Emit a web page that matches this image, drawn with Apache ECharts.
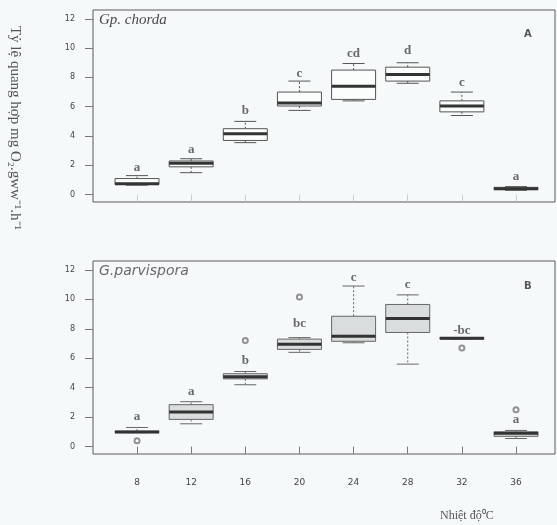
<!DOCTYPE html>
<html>
<head>
<meta charset="utf-8">
<script src="https://cdn.jsdelivr.net/npm/echarts@6/dist/echarts.min.js"></script>
<style>
  html, body { margin: 0; padding: 0; background: #f5f9fa; }
  #chart { width: 557px; height: 525px; }
</style>
</head>
<body>
<div id="chart"></div>
<script>
// temperatures (°C) on the x axis
const temps = [8, 12, 16, 20, 24, 28, 32, 36];
const yTicks = [0, 2, 4, 6, 8, 10, 12];

// Gp. chorda (panel A)
const chordaMin = [0.65, 1.5, 3.55, 5.75, 6.4, 7.6, 5.4, 0.3];
const chordaQ1  = [0.7, 1.9, 3.7, 6.05, 6.5, 7.75, 5.65, 0.35];
const chordaMed = [0.75, 2.15, 4.15, 6.25, 7.4, 8.2, 6.05, 0.4];
const chordaQ3  = [1.1, 2.3, 4.5, 7.0, 8.5, 8.7, 6.4, 0.5];
const chordaMax = [1.3, 2.45, 5.0, 7.75, 8.95, 9.0, 7.0, 0.55];
const chordaLetters = ['a', 'a', 'b', 'c', 'cd', 'd', 'c', 'a'];
const chordaLetterY = [1.85, 3.1, 5.75, 8.25, 9.6, 9.85, 7.65, 1.25];

// G. parvispora (panel B)
const parvMin = [0.95, 1.55, 4.2, 6.4, 7.05, 5.6, 7.3, 0.55];
const parvQ1  = [0.95, 1.85, 4.6, 6.6, 7.15, 7.75, 7.3, 0.7];
const parvMed = [1.0, 2.35, 4.75, 6.95, 7.5, 8.7, 7.35, 0.9];
const parvQ3  = [1.05, 2.85, 4.95, 7.3, 8.85, 9.65, 7.4, 1.0];
const parvMax = [1.3, 3.05, 5.1, 7.4, 10.9, 10.3, 7.4, 1.1];
const parvOutT = [8, 16, 20, 32, 36];
const parvOutY = [0.4, 7.2, 10.15, 6.7, 2.5];
const parvLetters = ['a', 'a', 'b', 'bc', 'c', 'c', '-bc', 'a'];
const parvLetterY = [2.05, 3.75, 5.85, 8.35, 11.5, 11.0, 7.9, 1.8];

const BOX_W = 44;
const pos = t => temps.indexOf(t) + 1;

function boxRows(mn, q1, md, q3, mx) {
  return temps.map((t, i) => [i + 1, mn[i], q1[i], md[i], q3[i], mx[i]]);
}

function boxRenderer(fill, stroke) {
  return function (params, api) {
    const x = api.value(0);
    const p = [1, 2, 3, 4, 5].map(i => api.coord([x, api.value(i)]));
    const cx = p[0][0], hw = BOX_W / 2, cw = BOX_W / 4;
    const [yMin, yQ1, yMed, yQ3, yMax] = p.map(q => q[1]);
    const thin = { stroke: stroke, lineWidth: 1 };
    const dash = { stroke: stroke, lineWidth: 1, lineDash: [2, 2] };
    return {
      type: 'group',
      children: [
        { type: 'line', shape: { x1: cx, y1: yQ3, x2: cx, y2: yMax }, style: dash },
        { type: 'line', shape: { x1: cx, y1: yQ1, x2: cx, y2: yMin }, style: dash },
        { type: 'line', shape: { x1: cx - cw, y1: yMax, x2: cx + cw, y2: yMax }, style: thin },
        { type: 'line', shape: { x1: cx - cw, y1: yMin, x2: cx + cw, y2: yMin }, style: thin },
        { type: 'rect', shape: { x: cx - hw, y: yQ3, width: BOX_W, height: yQ1 - yQ3 },
          style: { fill: fill, stroke: stroke, lineWidth: 1 } },
        { type: 'line', shape: { x1: cx - hw, y1: yMed, x2: cx + hw, y2: yMed },
          style: { stroke: '#333', lineWidth: 3 } }
      ]
    };
  };
}

function letterSeries(idx, letters, ys) {
  return {
    type: 'scatter', xAxisIndex: idx, yAxisIndex: idx,
    data: ys.map((y, i) => [i + 1, y]),
    symbolSize: 1, itemStyle: { color: 'transparent' },
    label: {
      show: true, position: 'inside',
      formatter: p => letters[p.dataIndex],
      fontFamily: 'Liberation Serif', fontSize: 13, fontWeight: 'bold', color: '#444'
    },
    silent: true
  };
}

const grids = [
  { left: 93, top: 10, width: 462, height: 192 },
  { left: 93, top: 261, width: 462, height: 193 }
];

const axisFont = { fontFamily: 'DejaVu Sans', fontSize: 8, color: '#444' };

const chart = echarts.init(document.getElementById('chart'), null, { renderer: 'canvas' });
chart.setOption({
  backgroundColor: '#f5f9fa',
  animation: false,
  grid: grids.map(g => Object.assign({ show: true, borderColor: '#5a5a5a', borderWidth: 1, backgroundColor: 'transparent' }, g)),
  xAxis: [0, 1].map(i => ({
    type: 'value', gridIndex: i, min: 0.187, max: 8.72,
    axisLine: { show: false },
    splitLine: { show: false },
    axisTick: { show: true, customValues: temps.map((t, k) => k + 1), length: 7,
      lineStyle: { color: i === 0 ? '#c8cccc' : '#777' } },
    axisLabel: { show: i === 1, customValues: temps.map((t, k) => k + 1), margin: 24,
      formatter: v => String(temps[Math.round(v) - 1]), ...axisFont, fontSize: 9 }
  })),
  yAxis: [0, 1].map(i => ({
    type: 'value', gridIndex: i, min: -0.5, max: 12.6,
    axisLine: { show: false },
    splitLine: { show: false },
    axisTick: { show: true, customValues: yTicks, length: 8, lineStyle: { color: '#777' } },
    axisLabel: { customValues: yTicks, margin: 18, ...axisFont }
  })),
  series: [
    {
      type: 'custom', xAxisIndex: 0, yAxisIndex: 0,
      renderItem: boxRenderer('#fbfdfd', '#555'),
      encode: { x: 0, y: [1, 2, 3, 4, 5] },
      data: boxRows(chordaMin, chordaQ1, chordaMed, chordaQ3, chordaMax)
    },
    {
      type: 'custom', xAxisIndex: 1, yAxisIndex: 1,
      renderItem: boxRenderer('#d9dddd', '#666'),
      encode: { x: 0, y: [1, 2, 3, 4, 5] },
      data: boxRows(parvMin, parvQ1, parvMed, parvQ3, parvMax)
    },
    {
      type: 'scatter', xAxisIndex: 1, yAxisIndex: 1,
      data: parvOutT.map((t, i) => [pos(t), parvOutY[i]]),
      symbol: 'emptyCircle', symbolSize: 5,
      itemStyle: { color: '#777', borderWidth: 1 }
    },
    letterSeries(0, chordaLetters, chordaLetterY),
    letterSeries(1, parvLetters, parvLetterY)
  ],
  graphic: [
    { type: 'text', left: 99, top: 13,
      style: { text: 'Gp. chorda', font: 'italic 15px "Liberation Serif"', fill: '#4a4a4a' } },
    { type: 'text', left: 99, top: 264,
      style: { text: 'G.parvispora', font: 'italic 14px "DejaVu Sans"', fill: '#6a6a6a' } },
    { type: 'text', left: 524, top: 29,
      style: { text: 'A', font: 'bold 10px "DejaVu Sans"', fill: '#555' } },
    { type: 'text', left: 524, top: 281,
      style: { text: 'B', font: 'bold 10px "DejaVu Sans"', fill: '#555' } },
    { type: 'text', left: 440, top: 510,
      style: { text: 'Nhiệt độ⁰C', font: '12px "Liberation Serif"', fill: '#555' } },
    { type: 'text', x: 15, y: 128, rotation: -Math.PI / 2,
      style: { text: 'Tỷ lệ quang hợp mg O₂.gww⁻¹.h⁻¹', font: '15px "Liberation Serif"',
        fill: '#555', align: 'center', verticalAlign: 'middle' } }
  ]
});
</script>
</body>
</html>
